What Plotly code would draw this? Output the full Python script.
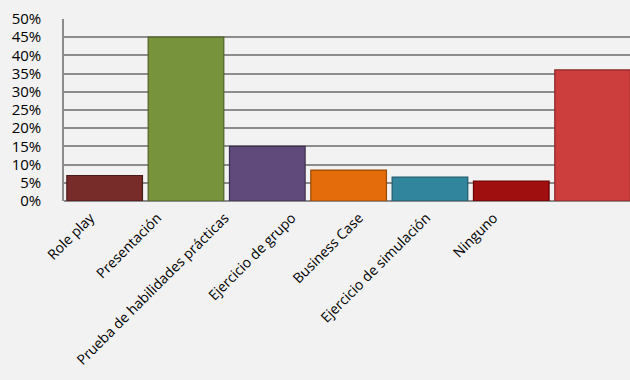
import plotly.graph_objects as go

categories = ["Role play", "Presentación", "Prueba de habilidades prácticas",
              "Ejercicio de grupo", "Business Case", "Ejercicio de simulación", "Ninguno"]
values = [0.07, 0.45, 0.15, 0.085, 0.066, 0.055, 0.36]
colors = ["#772c2a", "#77933c", "#604a7b", "#e46c0a", "#31859c", "#a00f0f", "#cc3d3d"]
edge_colors = ["#4a1a19", "#4f6228", "#3f3151", "#984807", "#215968", "#6a0000", "#8c2626"]
y_ticks = [i / 100 for i in range(0, 51, 5)]
y_tick_text = [f"{i}%" for i in range(0, 51, 5)]

fig = go.Figure()
fig.add_trace(go.Bar(
    x=categories, y=values,
    marker=dict(color=colors, line=dict(color=edge_colors, width=1.2)),
    width=0.93, hoverinfo="skip",
))
# category labels axis (labels in the original are spaced tighter than the bars)
fig.add_trace(go.Scatter(
    x=categories, y=values, mode="none", xaxis="x2", hoverinfo="skip",
))

fig.update_layout(
    width=630, height=380,
    margin=dict(l=64, r=0, t=19, b=179),
    paper_bgcolor="#f2f2f2", plot_bgcolor="#f2f2f2",
    font=dict(family="Open Sans", color="#000000"),
    showlegend=False,
    bargap=0.07,
    xaxis=dict(range=[-0.5, 6.46], showticklabels=False, showgrid=False,
               showline=False, ticks=""),
    xaxis2=dict(type="category", overlaying="x", side="bottom", anchor="y",
                range=[-0.39, 8.03], tickangle=-45, tickfont=dict(size=14),
                showgrid=False, showline=False, ticks="", ticklabelstandoff=5),
)
fig.update_yaxes(
    range=[0, 0.5], tickvals=y_ticks, ticktext=y_tick_text,
    tickfont=dict(size=15), showgrid=True, gridcolor="#8c8c8c", gridwidth=1.6,
    showline=True, linecolor="#8c8c8c", linewidth=1.6, ticks="",
    ticklabelstandoff=18, zeroline=True, zerolinecolor="#8c8c8c", zerolinewidth=1.6,
)

fig.write_html("out.html")
